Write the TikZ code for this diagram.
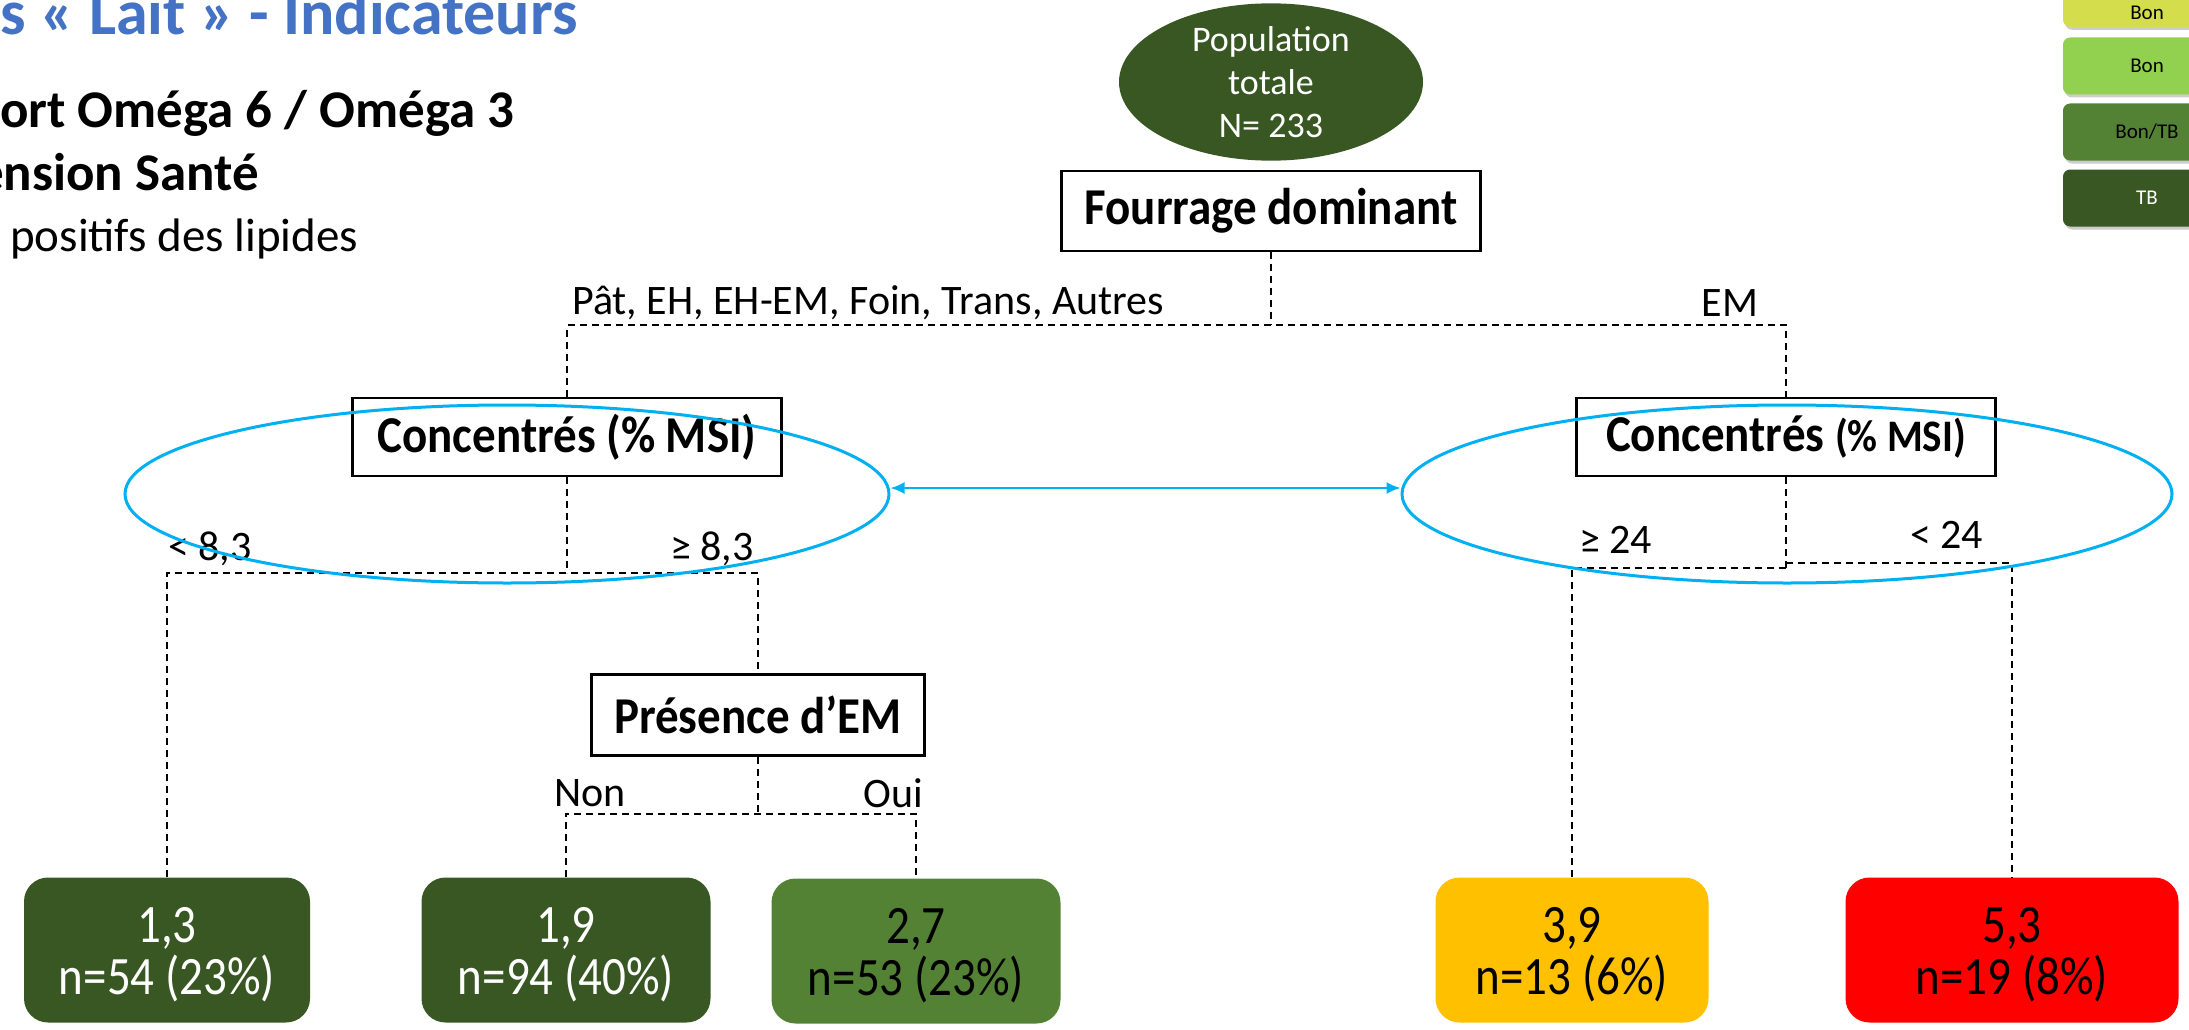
\documentclass[tikz,border=0pt]{standalone}
\usepackage{fontspec}
\setmainfont{Carlito}
\usetikzlibrary{shapes.geometric, arrows.meta, positioning, shadows}

\definecolor{vertfonce}{HTML}{385723}
\definecolor{vertmoyen}{HTML}{548235}
\definecolor{vertclair}{HTML}{92D050}
\definecolor{vertjaune}{HTML}{D4DD4C}
\definecolor{ambre}{HTML}{FFC000}
\definecolor{rouge}{HTML}{FF0000}
\definecolor{cyanrond}{HTML}{00B0F0}
\definecolor{titrebleu}{HTML}{4472C4}

\newcommand{\fs}[2]{\fontsize{#1}{#2}\selectfont}
% slightly taller glyphs, as in the slide
\newcommand{\haut}[2][1.15]{\scalebox{1}[#1]{#2}}
\newcommand{\leafval}[2]{\rule{0pt}{44pt}\haut{#1}\\\haut{#2}}

\tikzset{
  crit/.style={draw, line width=2.5pt, inner sep=0pt, font=\fs{47}{52}\bfseries},
  leaf/.style={rounded corners=24pt, inner sep=0pt, minimum height=145pt, align=center, font=\fs{47}{52}},
  cut/.style={font=\fs{42}{48}, inner sep=0pt},
  split/.style={draw, line width=1.8pt, dash pattern=on 7pt off 5pt},
  ring/.style={ellipse, draw=cyanrond, line width=3pt, inner sep=0pt, minimum height=178pt},
  leg/.style={rounded corners=7pt, minimum width=168pt, minimum height=57pt, inner sep=0pt, font=\fs{21}{24},
    drop shadow={opacity=0.4, shadow xshift=2pt, shadow yshift=-3pt}},
}

\begin{document}
\begin{tikzpicture}[x=1pt, y=-1pt]
\clip (0,0) rectangle (2189,1030);

% header lines
\node[anchor=base west, inner sep=0pt, text=titrebleu, font=\fs{64}{70}\bfseries] (titre) at (0,35) {s « Lait » - Indicateurs};
\node[anchor=base west, inner sep=0pt, font=\fs{53}{60}\bfseries] (rapport) at (0,128) {ort Oméga 6 / Oméga 3};
\node[anchor=base east, inner sep=0pt, font=\fs{53}{60}\bfseries] (dim) at (259,190) {ension Santé};
\node[anchor=base west, inner sep=0pt, font=\fs{47}{52}] (effets) at (10,251) {positifs des lipides};

% legend
\node[leg, fill=vertjaune, anchor=south] (leg1) at (2147,27) {};
\node[font=\fs{21}{24}, inner sep=0pt] (leg1txt) at (2147,13) {Bon};
\node[leg, fill=vertclair] (leg2) at (2147,66) {Bon};
\node[leg, fill=vertmoyen] (leg3) at (2147,132) {Bon/TB};
\node[leg, fill=vertfonce, text=white] (leg4) at (2147,198) {TB};

% tree
\node[ellipse, fill=vertfonce, text=white, minimum width=304pt, minimum height=154pt, inner sep=0pt,
  align=center, font=\fs{36}{43}] (pop) at (1271,82) {Population\\totale\\N= 233};
\node[crit, minimum width=419pt, minimum height=80pt, below=9pt of pop] (fourrage) {\haut[1.1]{Fourrage dominant}};
\node[crit, minimum width=429pt, minimum height=78pt] (concL) at (567,437) {\haut[1.1]{Concentrés (\% MSI)}};
\node[crit, minimum width=419pt, minimum height=78pt] (concR) at (1786,437) {\haut[1.1]{Concentrés {\fs{41}{46}(\% MSI)}}};
\node[crit, minimum width=333pt, minimum height=81pt] (presence) at (758,715) {\haut[1.1]{Présence d’EM}};

\node[leaf, fill=vertfonce, text=white, minimum width=286pt] (leafA) at (167,950) {\leafval{1,3}{n=54 (23\%)}};
\node[leaf, fill=vertfonce, text=white, minimum width=289pt] (leafB) at (566,950) {\leafval{1,9}{n=94 (40\%)}};
\node[leaf, fill=vertmoyen, minimum width=289pt] (leafC) at (916,951) {\leafval{2,7}{n=53 (23\%)}};
\node[leaf, fill=ambre, minimum width=273pt] (leafD) at (1572,950) {\leafval{3,9}{n=13 (6\%)}};
\node[leaf, fill=rouge, minimum width=333pt] (leafE) at (2012,950) {\leafval{5,3}{n=19 (8\%)}};

% dashed splits
\path (fourrage.south) ++(0,73) coordinate (fj);
\draw[split] (fourrage.south) -- (fj);
\draw[split] (concL.north) |- (fj) -| (concR.north);

\path (concL.south) ++(0,96) coordinate (cj);
\draw[split] (concL.south) -- (cj);
\draw[split] (leafA.north) |- (cj) -| (presence.north);

\path (presence.south) ++(0,57) coordinate (pj);
\draw[split] (presence.south) -- (pj);
\draw[split] (leafB.north) |- (pj) -| (leafC.north);

\path (concR.south) ++(0,91) coordinate (rjA) ++(0,-5) coordinate (rjB);
\draw[split] (concR.south) -- (rjA);
\draw[split] (leafD.north) |- (rjA);
\draw[split] (rjB) -| (leafE.north);

% branch labels
\node[cut, anchor=west] (lAutres) at (572,303) {Pât, EH, EH-EM, Foin, Trans, Autres};
\node[cut] (lEM) at (1730,303) {EM};
\node[cut, anchor=west] (lInf83) at (168,549) {< 8,3};
\node[cut, anchor=west] (lSup83) at (670,549) {≥ 8,3};
\node[cut, anchor=west] (lSup24) at (1579,540) {≥ 24};
\node[cut, anchor=west] (lInf24) at (1910,535) {< 24};
\node[cut, anchor=west] (lNon) at (554,793) {Non};
\node[cut, anchor=west] (lOui) at (863,793) {Oui};

% blue rings on top
\node[ring, minimum width=764pt] (ringL) at (507,494) {};
\node[ring, minimum width=770pt] (ringR) at (1787,494) {};
\draw[cyanrond, line width=2pt, {Latex[length=14pt,width=12pt]}-{Latex[length=14pt,width=12pt]}]
  ([yshift=6pt]ringL.east) -- ([yshift=6pt]ringR.west);
\end{tikzpicture}
\end{document}
